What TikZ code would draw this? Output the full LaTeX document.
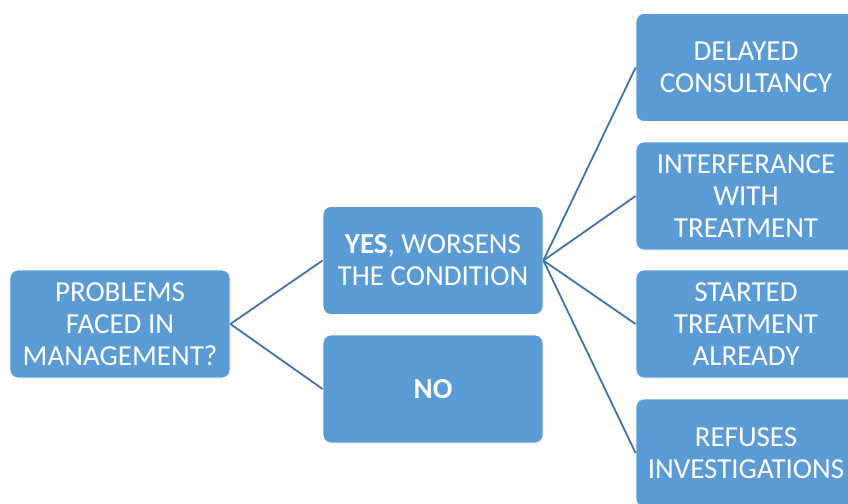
\documentclass[tikz,border=0pt]{standalone}
\usepackage{fontspec}
\setmainfont{Carlito}
\definecolor{boxblue}{RGB}{91,155,213}
\definecolor{lineblue}{RGB}{65,113,170}
\tikzset{
  box/.style={rectangle, rounded corners=8pt, fill=boxblue, draw=white, line width=0.8pt,
    minimum width=220pt, minimum height=108pt, text=white, align=center,
    font=\fontsize{29pt}{32pt}\selectfont, inner sep=2pt},
  conn/.style={draw=lineblue, line width=1.8pt}
}
\begin{document}
\begin{tikzpicture}[x=1pt,y=-1pt]
\useasboundingbox (0,0) rectangle (848,503);
\begin{scope}
\clip (0,0) rectangle (848,503);
\node[box] (prob) at (120,324) {PROBLEMS\\FACED IN\\MANAGEMENT?};
\node[box] (yes) at (433,260.5) {\textbf{YES}, WORSENS\\THE CONDITION};
\node[box] (no) at (433,389) {\textbf{NO}};
\node[box] (d1) at (746,67.5) {DELAYED\\CONSULTANCY};
\node[box] (d2) at (746,196) {INTERFERANCE\\WITH\\TREATMENT};
\node[box] (d3) at (746,324) {STARTED\\TREATMENT\\ALREADY};
\node[box] (d4) at (746,453) {REFUSES\\INVESTIGATIONS};
\draw[conn] (prob.east) -- (yes.west);
\draw[conn] (prob.east) -- (no.west);
\draw[conn] (yes.east) -- (d1.west);
\draw[conn] (yes.east) -- (d2.west);
\draw[conn] (yes.east) -- (d3.west);
\draw[conn] (yes.east) -- (d4.west);
\end{scope}
\end{tikzpicture}
\end{document}
